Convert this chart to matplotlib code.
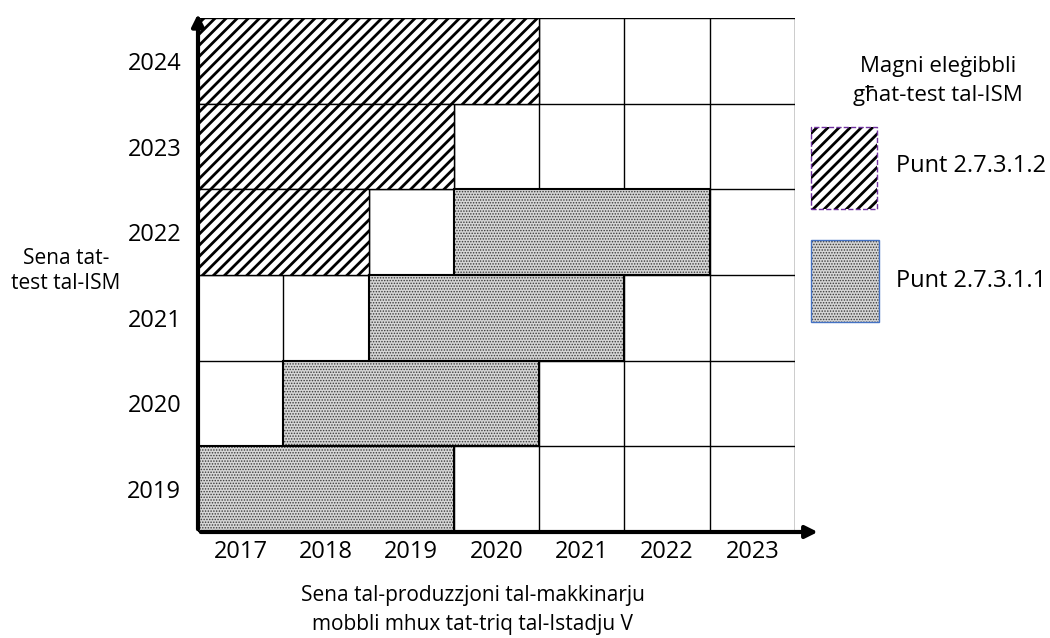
import matplotlib
matplotlib.use("Agg")
import matplotlib.pyplot as plt
from matplotlib.patches import Rectangle

plt.rcParams['font.family'] = ['Open Sans', 'DejaVu Sans']

prod_years = [2017, 2018, 2019, 2020, 2021, 2022, 2023]
test_years = [2019, 2020, 2021, 2022, 2023, 2024]

# punt 2.7.3.1.2 (hatched): test year, first and last production year
hatch_test = [2024, 2023, 2022]
hatch_start = [2017, 2017, 2017]
hatch_end = [2020, 2019, 2018]

# punt 2.7.3.1.1 (dotted)
dot_test = [2022, 2021, 2020, 2019]
dot_start = [2020, 2019, 2018, 2017]
dot_end = [2022, 2021, 2020, 2019]

DOT_FACE = '#d6d6d6'
DOT_INK = '#3a3a3a'

fig = plt.figure(figsize=(10.5, 6.38), dpi=100)
ax = fig.add_axes([198/1050, 1-532/638, (795-198)/1050, (532-18)/638])

x0, x1 = prod_years[0]-0.5, prod_years[-1]+0.5
y0, y1 = test_years[0]-0.5, test_years[-1]+0.5
ax.set_xlim(x0, x1)
ax.set_ylim(y0, y1)

# cell grid
for i in range(len(prod_years)+1):
    ax.plot([x0+i, x0+i], [y0, y1], color='black', lw=1, zorder=1)
for j in range(len(test_years)+1):
    ax.plot([x0, x1], [y0+j, y0+j], color='black', lw=1, zorder=1)

plt.rcParams['hatch.linewidth'] = 2.0
for t, s, e in zip(hatch_test, hatch_start, hatch_end):
    ax.barh(t, e-s+1, left=s-0.5, height=1, color='white', edgecolor='black',
            hatch='///', lw=1, zorder=2)
plt.rcParams['hatch.linewidth'] = 0.7
for t, s, e in zip(dot_test, dot_start, dot_end):
    ax.barh(t, e-s+1, left=s-0.5, height=1, facecolor=DOT_FACE, edgecolor=DOT_INK,
            hatch='......', lw=0, zorder=2)
    ax.barh(t, e-s+1, left=s-0.5, height=1, fill=False, edgecolor='black',
            lw=1.5, zorder=3)

for sp in ax.spines.values():
    sp.set_visible(False)
ax.set_xticks(prod_years)
ax.set_yticks(test_years)
ax.tick_params(axis='x', length=0, labelsize=17, pad=6)
ax.tick_params(axis='y', length=0, labelsize=17, pad=12)

# axis arrows
ax.annotate('', xy=(x0, y1+0.08), xytext=(x0, y0), xycoords='data',
            arrowprops=dict(arrowstyle='-|>', lw=3, color='black', mutation_scale=18),
            annotation_clip=False, zorder=5)
ax.annotate('', xy=(x1+0.3, y0), xytext=(x0, y0), xycoords='data',
            arrowprops=dict(arrowstyle='-|>', lw=3, color='black', mutation_scale=18),
            annotation_clip=False, zorder=5)

fig.text(66/1050, 1-271/638, 'Sena tat-\ntest tal-ISM', ha='center', va='center',
         fontsize=15, linespacing=1.3)
fig.text(473/1050, 1-610/638, 'Sena tal-produzzjoni tal-makkinarju\nmobbli mhux tat-triq tal-Istadju V',
         ha='center', va='center', fontsize=15, linespacing=1.5)

# legend
fig.text(938/1050, 1-81/638, 'Magni eleġibbli\ngħat-test tal-ISM', ha='center', va='center',
         fontsize=16, linespacing=1.5)
plt.rcParams['hatch.linewidth'] = 2.0
fig.patches.append(Rectangle((811/1050, 1-209/638), 66/1050, 82/638, transform=fig.transFigure,
                             facecolor='white', edgecolor='black', hatch='///', lw=0))
fig.patches.append(Rectangle((811/1050, 1-209/638), 66/1050, 82/638, transform=fig.transFigure,
                             fill=False, edgecolor='#7030a0', lw=1, ls='--'))
plt.rcParams['hatch.linewidth'] = 0.7
fig.patches.append(Rectangle((811/1050, 1-322/638), 68/1050, 82/638, transform=fig.transFigure,
                             facecolor=DOT_FACE, edgecolor=DOT_INK, hatch='......', lw=0))
fig.patches.append(Rectangle((811/1050, 1-322/638), 68/1050, 82/638, transform=fig.transFigure,
                             fill=False, edgecolor='#4472c4', lw=1))
fig.text(896/1050, 1-166/638, 'Punt 2.7.3.1.2', ha='left', va='center', fontsize=17)
fig.text(896/1050, 1-281/638, 'Punt 2.7.3.1.1', ha='left', va='center', fontsize=17)

fig.savefig('out.png', dpi=100)
